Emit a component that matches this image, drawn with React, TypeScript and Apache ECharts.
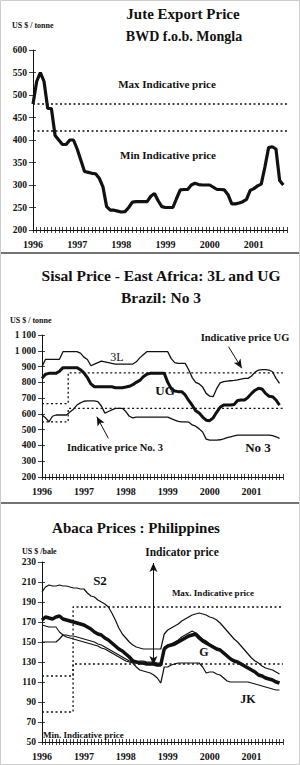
import React, { useEffect, useRef } from 'react';
import * as echarts from 'echarts';

// ---------- DATA (monthly, Jan 1996 = month 0) ----------
const YEARS = ['1996', '1997', '1998', '1999', '2000', '2001'];

// Jute Export Price, BWD f.o.b. Mongla (US$/tonne)
const juteBWD = [480, 530, 550, 530, 470, 470, 410, 400, 390, 390, 400, 400, 380, 355, 330, 328, 326, 325, 315, 296, 252, 244, 244, 242, 240, 241, 250, 262, 263, 263, 263, 263, 275, 281, 265, 252, 250, 250, 250, 270, 289, 290, 290, 300, 304, 301, 300, 300, 300, 295, 290, 290, 289, 278, 258, 258, 260, 263, 268, 288, 292, 298, 302, 340, 383, 385, 380, 310, 300];
const juteMaxIndicative = 480;
const juteMinIndicative = 420;

// Sisal (US$/tonne)
const sisal3L = [899, 946, 946, 946, 946, 946, 994, 994, 994, 994, 994, 985, 960, 945, 905, 915, 925, 935, 930, 925, 920, 916, 916, 916, 916, 916, 916, 930, 955, 975, 994, 994, 994, 994, 994, 994, 994, 950, 925, 920, 920, 920, 880, 830, 800, 790, 770, 730, 712, 709, 760, 797, 805, 808, 810, 812, 815, 820, 825, 825, 840, 865, 878, 880, 880, 878, 867, 825, 794];
const sisalUG = [825, 851, 857, 857, 857, 870, 893, 893, 893, 893, 893, 880, 860, 830, 790, 772, 772, 772, 772, 772, 772, 766, 766, 766, 770, 775, 785, 800, 812, 835, 851, 857, 857, 857, 857, 857, 800, 760, 745, 741, 741, 720, 685, 655, 620, 605, 580, 560, 557, 575, 610, 642, 656, 656, 656, 660, 685, 688, 688, 705, 730, 750, 762, 758, 730, 712, 709, 688, 656];
const sisalNo3 = [593, 575, 550, 585, 593, 593, 593, 593, 612, 630, 656, 670, 680, 682, 682, 682, 678, 650, 605, 615, 625, 635, 635, 635, 615, 585, 575, 580, 580, 580, 580, 580, 580, 580, 580, 580, 580, 570, 561, 552, 550, 550, 548, 530, 522, 505, 485, 440, 434, 434, 434, 436, 442, 449, 455, 460, 466, 466, 466, 466, 466, 466, 466, 466, 466, 466, 462, 455, 445];
const sisalIndicativeUG = [[0, 665], [7.5, 665], [7.5, 860], [69, 860]];
const sisalIndicativeNo3 = [[0, 550], [7.5, 550], [7.5, 635], [69, 635]];

// Abaca (US$/bale)
const abacaS2 = [200, 205, 207, 206, 206, 207, 206, 206, 205, 204, 204, 203, 203, 199, 196, 195, 192, 190, 188, 185, 179, 172, 164, 158, 154, 150, 147, 145, 144, 143, 143, 143, 143, 143, 143, 158, 162, 164, 166, 168, 171, 173, 175, 177, 178, 179, 178, 177, 175, 174, 172, 169, 165, 161, 157, 153, 150, 146, 142, 138, 134, 131, 129, 126, 124, 123, 122, 120, 118];
const abacaG = [172, 175, 174, 173, 175, 176, 173, 172, 171, 170, 169, 168, 167, 165, 163, 160, 158, 157, 154, 152, 149, 146, 143, 141, 138, 135, 131, 130, 129, 129, 128, 128, 128, 127, 127, 143, 146, 147, 148, 150, 152, 154, 156, 157, 158, 154, 151, 149, 147, 145, 143, 142, 139, 136, 133, 131, 130, 128, 126, 124, 122, 120, 117, 116, 114, 113, 112, 110, 109];
const abacaH = [167, 166, 165, 165, 165, 160, 157, 157, 156, 156, 155, 154, 153, 152, 151, 150, 148, 147, 145, 143, 141, 139, 137, 135, 133, 131, 130, 130, 131, 131, 130, 130, 130, 129, 129, 145, 147, 148, 150, 152, 155, 157, 159, 161, 159, 156, 153, 151, 148, 146, 144, 142, 140, 137, 134, 132, 130, 128, 126, 124, 122, 120, 118, 116, 115, 113, 112, 111, 110];
const abacaJK = [150, 150, 150, 150, 150, 153, 157, 155, 154, 153, 152, 151, 150, 149, 148, 147, 146, 144, 143, 141, 139, 137, 135, 133, 131, 130, 129, 125, 122, 121, 120, 119, 117, 114, 109, 125, 125, 127, 128, 129, 129, 129, 129, 129, 129, 129, 125, 119, 120, 120, 118, 117, 114, 111, 110, 110, 110, 110, 110, 110, 109, 108, 107, 106, 105, 104, 103, 102, 102];
const abacaMaxIndicative = [[0, 116], [8.9, 116], [8.9, 185], [69, 185]];
const abacaMinIndicative = [[0, 80], [8.9, 80], [8.9, 128], [69, 128]];
const abacaIndicatorArrow = [[31.9, 127], [31.9, 229]];

// arrows in sisal panel
const sisalArrowUG = [[53.4, 1026], [57.2, 889]];
const sisalArrowNo3 = [[19, 445], [15.7, 582]];

// ---------- STYLE ----------
const FONT = '"Liberation Serif", "DejaVu Serif", serif';
const INK = '#111';

const pairs = (vals: number[]) => vals.map((v, i) => [i, v]);

function xAxes(grid: number, max: number) {
  const common = {
    type: 'value', gridIndex: grid, min: 0, max, interval: 1,
    splitLine: { show: false },
  };
  return [
    {
      ...common,
      axisLine: { show: true, lineStyle: { color: INK, width: 1 } },
      axisTick: { show: true, length: 3, lineStyle: { color: INK, width: 0.8 } },
      axisLabel: {
        show: true, margin: 9, fontFamily: FONT, fontWeight: 'bold', fontSize: 10, color: INK,
        formatter: (v: number) => (v % 12 === 0 && YEARS[v / 12]) ? YEARS[v / 12] : '',
      },
    },
    {
      ...common,
      position: 'bottom',
      axisLine: { show: false },
      axisTick: { show: true, inside: true, length: 3, lineStyle: { color: INK, width: 0.8 } },
      axisLabel: { show: false },
    },
  ];
}

function yAxes(grid: number, min: number, max: number, interval: number, fmt?: (v: number) => string) {
  const common = { type: 'value', gridIndex: grid, min, max, interval, splitLine: { show: false } };
  return [
    {
      ...common,
      axisLine: { show: true, lineStyle: { color: INK, width: 1 } },
      axisTick: { show: true, length: 4, lineStyle: { color: INK, width: 0.8 } },
      axisLabel: {
        show: true, margin: 6, fontFamily: FONT, fontWeight: 'bold', fontSize: 9.5, color: INK,
        formatter: fmt || ((v: number) => String(v)),
      },
    },
    {
      ...common,
      position: 'left',
      axisLine: { show: false },
      axisTick: { show: true, inside: true, length: 3, lineStyle: { color: INK, width: 0.8 } },
      axisLabel: { show: false },
    },
  ];
}

function line(grid: number, data: number[][], width: number, dotted = false, extra: any = {}) {
  return {
    type: 'line', xAxisIndex: grid * 2, yAxisIndex: grid * 2, data,
    symbol: 'none', smooth: false, silent: true,
    lineStyle: { color: INK, width, type: dotted ? [2, 2.5] : 'solid' },
    z: dotted ? 2 : 3,
    ...extra,
  };
}

function arrowMark(from: number[], to: number[], symbols: string[]) {
  return {
    silent: true, symbol: symbols, symbolSize: [6, 9],
    label: { show: false },
    lineStyle: { color: INK, width: 1, type: 'solid' },
    emphasis: { disabled: true },
    data: [[{ coord: from }, { coord: to }]],
  };
}

function txt(text: string, x: number, y: number, size: number, align = 'center', weight = 'bold') {
  return {
    type: 'text', x, y, silent: true,
    style: {
      text, fill: INK, fontFamily: FONT, fontWeight: weight, fontSize: size,
      align, textAlign: align, verticalAlign: 'middle', textVerticalAlign: 'middle',
    },
  };
}

function hline(y: number) {
  return { type: 'line', shape: { x1: 0, y1: y, x2: 300, y2: y }, style: { stroke: '#444', lineWidth: 1.5 }, silent: true };
}

export default function App() {
  const ref = useRef<HTMLDivElement>(null);
  useEffect(() => {
    if (!ref.current) return;
    const chart = echarts.init(ref.current, undefined, { renderer: 'svg' });
    const sisalFmt = (v: number) => (v >= 1000 ? '1 ' + String(v - 1000).padStart(3, '0') : String(v));
    const option: any = {
      animation: false,
      backgroundColor: '#fff',
      grid: [
        { left: 33, top: 50, width: 254, height: 180 },
        { left: 42, top: 335, width: 241, height: 142 },
        { left: 42, top: 562, width: 241, height: 180 },
      ],
      xAxis: [...xAxes(0, 69), ...xAxes(1, 69), ...xAxes(2, 69)],
      yAxis: [
        ...yAxes(0, 200, 600, 50),
        ...yAxes(1, 200, 1100, 100, sisalFmt),
        ...yAxes(2, 50, 230, 20),
      ],
      series: [
        // Jute
        line(0, [[0, juteMaxIndicative], [69, juteMaxIndicative]], 1.3, true),
        line(0, [[0, juteMinIndicative], [69, juteMinIndicative]], 1.3, true),
        line(0, pairs(juteBWD), 3.2),
        // Sisal
        line(1, sisalIndicativeUG, 1.3, true, { markLine: arrowMark(sisalArrowUG[0], sisalArrowUG[1], ['none', 'arrow']) }),
        line(1, sisalIndicativeNo3, 1.3, true, { markLine: arrowMark(sisalArrowNo3[0], sisalArrowNo3[1], ['none', 'arrow']) }),
        line(1, pairs(sisal3L), 1.3),
        line(1, pairs(sisalNo3), 1.3),
        line(1, pairs(sisalUG), 3),
        // Abaca
        line(2, abacaMaxIndicative, 1.3, true, { markLine: arrowMark(abacaIndicatorArrow[0], abacaIndicatorArrow[1], ['arrow', 'arrow']) }),
        line(2, abacaMinIndicative, 1.3, true),
        line(2, pairs(abacaS2), 1.2),
        line(2, pairs(abacaH), 1.1),
        line(2, pairs(abacaJK), 1.2),
        line(2, pairs(abacaG), 3.5),
      ],
      graphic: [
        hline(253),
        hline(503),
        { type: 'rect', shape: { x: 0.5, y: 0.5, width: 299, height: 764 }, style: { fill: 'none', stroke: '#ccc', lineWidth: 1 }, silent: true },
        // Jute panel
        txt('Jute Export Price', 183, 14, 15),
        txt('BWD f.o.b. Mongla', 184, 36, 14),
        txt('US $ / tonne', 12, 25, 8, 'left'),
        txt('Max Indicative price', 167, 84, 11),
        txt('Min Indicative price', 168, 155, 11),
        // Sisal panel
        txt('Sisal Price - East Africa: 3L and UG', 161, 275, 15.5),
        txt('Brazil: No 3', 161, 297, 15.5),
        txt('US $ / tonne', 10, 320, 8, 'left'),
        txt('Indicative price UG', 245, 337, 10.5),
        txt('3L', 117, 357, 12, 'center', 'normal'),
        txt('UG', 165, 390, 13),
        txt('Indicative price No. 3', 115, 447, 10.5),
        txt('No 3', 258, 447, 13),
        // Abaca panel
        txt('Abaca Prices : Philippines', 136, 528, 15),
        txt('US $ /bale', 22, 551, 8, 'left'),
        txt('Indicator price', 182, 552, 11.5),
        txt('Max. Indicative price', 213, 593, 9),
        txt('S2', 100, 580, 13),
        txt('G', 204, 652, 12),
        txt('JK', 248, 699, 12),
        txt('Min. Indicative price', 43, 735, 9, 'left'),
      ],
    };
    chart.setOption(option);
    return () => chart.dispose();
  }, []);
  return <div ref={ref} style={{ position: 'absolute', left: 0, top: 0, width: 300, height: 765, background: '#fff' }} />;
}
